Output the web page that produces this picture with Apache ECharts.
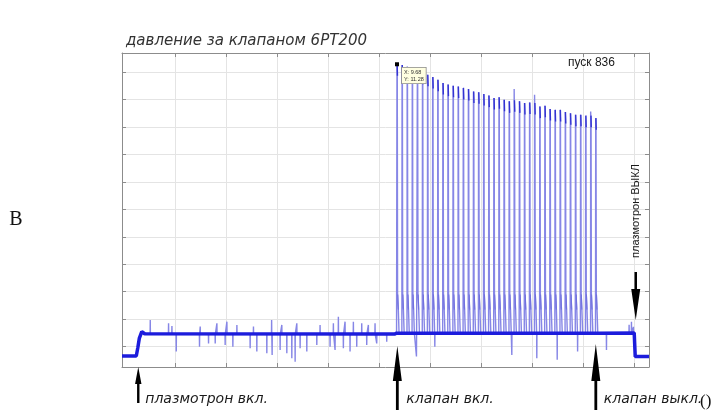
<!DOCTYPE html>
<html><head><meta charset="utf-8">
<script src="https://cdn.jsdelivr.net/npm/echarts@6/dist/echarts.min.js"></script>
<style>html,body{margin:0;padding:0;background:#fff}#c{width:719px;height:410px}</style>
</head><body><div id="c"></div>
<script>
// ---- axis ranges / grid ticks (no tick labels are shown in the reference) ----
const xRange = [-0.044, 10.29];
const yRange = [0.26, 11.69];
const xGridTicks = [1, 2, 3, 4, 5, 6, 7, 8, 9, 10];
const yGridTicks = [1, 2, 3, 4, 5, 6, 7, 8, 9, 10, 11];

// ---- base level of the pressure signal (baseline -> plasmatron on -> off) ----
const levelTimes  = [-0.044, 0.236, 0.265, 0.295, 0.344, 0.40, 5.30, 5.34, 9.30, 10.00, 10.02, 10.29];
const levelValues = [0.66, 0.66, 0.95, 1.30, 1.55, 1.47, 1.46, 1.49, 1.49, 1.50, 0.64, 0.64];

// ---- noise spikes on the plateau ----
const noiseTimes  = [0.510,0.869,0.935,1.020,1.476,1.490,1.653,1.784,1.817,1.979,2.013,2.130,2.209,2.469,2.534,2.600,2.796,2.890,2.900,3.057,3.090,3.188,3.286,3.351,3.384,3.449,3.580,3.776,3.840,4.036,4.101,4.134,4.199,4.297,4.330,4.428,4.493,4.559,4.657,4.755,4.787,4.918,4.951,5.147,
                     5.730,6.090,7.600,8.090,8.490,8.890,9.456,9.900,9.946,9.985];
const noiseValues = [1.97,1.85,1.75,0.82,1.00,1.73,1.12,1.12,1.85,1.06,1.91,1.00,1.79,0.94,1.73,0.82,0.76,1.97,0.70,0.88,1.79,0.76,0.58,0.45,1.85,0.94,0.82,1.06,1.79,1.00,1.85,0.88,2.09,0.94,1.91,0.82,1.91,1.00,1.85,1.06,1.79,1.85,1.12,1.18,
                     0.64,1.00,0.70,0.58,0.52,0.82,0.88,1.80,1.91,1.72];

// ---- valve pulses ----
const pulseTimes = [5.344,5.444,5.544,5.644,5.744,5.844,5.944,6.044,6.144,6.244,6.344,6.444,6.544,6.644,6.744,6.844,6.944,7.044,7.144,7.244,
                    7.344,7.444,7.544,7.644,7.744,7.844,7.944,8.044,8.144,8.244,8.344,8.444,8.544,8.644,8.744,8.844,8.944,9.044,9.144,9.241];
const pulsePeaks = [11.28,11.25,11.19,11.12,11.07,10.97,10.90,10.82,10.72,10.60,10.54,10.50,10.47,10.42,10.38,10.29,10.26,10.20,10.14,10.05,
                    10.08,9.99,9.93,9.97,9.93,9.87,9.89,9.87,9.74,9.77,9.65,9.62,9.62,9.54,9.50,9.44,9.44,9.41,9.41,9.32];
const pulseOvershootIndex = [23, 27, 38];
const pulseOvershootValue = [10.38, 10.17, 9.56];
// pulse profile after the peak: time offsets and levels
const pulseProfileDt = [0, 0.004, 0.010, 0.016, 0.030, 0.045];
const pulseTopDrop = 0.42;         // dark part at the top of each pulse
const pulseShoulder = [2.9, 2.35]; // secondary shoulder levels

const cursorX = 9.68;  // data-cursor readout
const eventLabels = ['плазмотрон вкл.', 'клапан вкл.', 'клапан выкл.'];
const eventTimes = [0.275, 5.355, 9.247];
const offLabel = 'плазмотрон ВЫКЛ';
const offTime = 10.03;

// ---- build series ----
function levelAt(t) {
  for (let i = 1; i < levelTimes.length; i++) {
    if (t <= levelTimes[i]) {
      const a = levelTimes[i-1], b = levelTimes[i];
      const f = (t - a) / (b - a);
      return levelValues[i-1] + f * (levelValues[i] - levelValues[i-1]);
    }
  }
  return levelValues[levelValues.length - 1];
}
const band = levelTimes.map((t, i) => [t, levelValues[i]]);
let pts = band.slice();
noiseTimes.forEach((t, i) => {
  const b = levelAt(t);
  pts.push([t - 0.003, b], [t, noiseValues[i]], [t + 0.003, b]);
});
const tops = [];
const shoulders = [];
pulseTimes.forEach((t, k) => {
  const p = pulsePeaks[k];
  const b = levelAt(t);
  const oi = pulseOvershootIndex.indexOf(k);
  pts.push([t + pulseProfileDt[0], b]);
  if (oi >= 0) pts.push([t + 0.002, pulseOvershootValue[oi]]);
  pts.push([t + pulseProfileDt[1], p], [t + pulseProfileDt[2], p - pulseTopDrop],
           [t + pulseProfileDt[3], pulseShoulder[0]], [t + pulseProfileDt[4], pulseShoulder[1]],
           [t + pulseProfileDt[5], b]);
  tops.push([t + pulseProfileDt[1] + 0.004, p], [t + pulseProfileDt[2] + 0.004, p - pulseTopDrop], [t + 0.012, null]);
  shoulders.push([t + pulseProfileDt[3] + 0.004, pulseShoulder[0]], [t + pulseProfileDt[4], pulseShoulder[1]], [t + 0.04, null]);
});
pts.sort((a, b) => a[0] - b[0]);

const chart = echarts.init(document.getElementById('c'), null, {renderer: 'canvas'});
const borderColor = '#8c8c8c';
const gridColor = '#e4e4e4';
function xAx(pos, split) {
  return {type: 'value', position: pos, min: xRange[0], max: xRange[1],
    axisLine: {show: true, onZero: false, lineStyle: {color: borderColor, width: 1}},
    axisTick: {show: true, inside: true, length: 4, customValues: xGridTicks, lineStyle: {color: borderColor}},
    axisLabel: {show: false},
    splitLine: {show: split, lineStyle: {color: gridColor, width: 1}}};
}
function yAx(pos, split) {
  return {type: 'value', position: pos, min: yRange[0], max: yRange[1],
    axisLine: {show: true, onZero: false, lineStyle: {color: borderColor, width: 1}},
    axisTick: {show: true, inside: true, length: 4, customValues: yGridTicks, lineStyle: {color: borderColor}},
    axisLabel: {show: false},
    splitLine: {show: split, lineStyle: {color: gridColor, width: 1}}};
}
chart.setOption({
  animation: false,
  backgroundColor: '#ffffff',
  grid: {left: 122, right: 70, top: 53, bottom: 43, containLabel: false},
  title: {text: 'давление за клапаном 6РТ200', left: 121, top: 29,
    textStyle: {fontFamily: 'DejaVu Sans', fontStyle: 'italic', fontWeight: 'normal', fontSize: 15, color: '#333333'}},
  xAxis: [xAx('bottom', true), xAx('top', false)],
  yAxis: [yAx('left', true), yAx('right', false)],
  series: [
    {name: 'сигнал', type: 'line', data: pts, showSymbol: false, symbol: 'none',
     lineStyle: {color: '#8686e6', width: 1.4}, z: 2,
     markPoint: {symbol: 'rect', symbolSize: 4, itemStyle: {color: '#000'},
       data: [{coord: [pulseTimes[0] + pulseProfileDt[1], pulsePeaks[0]]}],
       label: {show: true, position: [7, 5.5],
         formatter: 'X: ' + cursorX.toFixed(2) + '\nY: ' + pulsePeaks[0].toFixed(2),
         fontFamily: 'Liberation Sans', fontSize: 5.5, lineHeight: 6.5, color: '#333',
         backgroundColor: '#ffffe1', borderColor: '#8a8a8a', borderWidth: 0.8, padding: [1.5, 2, 1, 2]}}},
    {name: 'вершины', type: 'line', data: tops, showSymbol: false, symbol: 'none', connectNulls: false,
     lineStyle: {color: '#3434d2', width: 1.4}, z: 3},
    {name: 'плечо', type: 'line', data: shoulders, showSymbol: false, symbol: 'none', connectNulls: false,
     lineStyle: {color: '#7070de', width: 1}, z: 3},
    {name: 'уровень', type: 'line', data: band, showSymbol: false, symbol: 'none',
     lineStyle: {color: '#1c1cdc', width: 3.5}, z: 4}
  ]
});

// ---- annotations (arrows + labels) positioned from data times ----
const arrowGeom = [
  {tip: 367, base: 384, hw: 3.2, sw: 2.4, bottom: 403, dx: 7},
  {tip: 346, base: 381, hw: 4.5, sw: 2.8, bottom: 411, dx: 9},
  {tip: 344, base: 381, hw: 4.5, sw: 2.8, bottom: 411, dx: 8}
];
const g = [];
eventTimes.forEach((t, i) => {
  const x = chart.convertToPixel({xAxisIndex: 0}, t);
  const a = arrowGeom[i];
  g.push({type: 'polygon', shape: {points: [[x, a.tip], [x + a.hw, a.base], [x + a.sw/2, a.base], [x + a.sw/2, a.bottom],
    [x - a.sw/2, a.bottom], [x - a.sw/2, a.base], [x - a.hw, a.base]]}, style: {fill: '#000'}, z: 10});
  g.push({type: 'text', x: x + a.dx, y: 399, style: {text: eventLabels[i], fontFamily: 'DejaVu Sans', fontStyle: 'italic',
    fontSize: 14, fill: '#1a1a1a', verticalAlign: 'middle', align: 'left'}, z: 10});
});
const xo = chart.convertToPixel({xAxisIndex: 0}, offTime);
g.push({type: 'polygon', shape: {points: [[xo - 1.25, 272], [xo + 1.25, 272], [xo + 1.25, 289], [xo + 4.5, 289], [xo, 320], [xo - 4.5, 289], [xo - 1.25, 289]]},
  style: {fill: '#000'}, z: 10});
g.push({type: 'text', x: xo, y: 211, rotation: Math.PI / 2, style: {text: offLabel, fontFamily: 'Liberation Sans', fontSize: 11,
  fill: '#1a1a1a', align: 'center', verticalAlign: 'middle'}, z: 10});
g.push({type: 'text', x: 700, y: 402, style: {text: '()', fontFamily: 'Liberation Serif', fontSize: 17, fill: '#111',
  verticalAlign: 'middle', align: 'left'}, z: 10});
g.push({type: 'text', x: 16, y: 220, style: {text: 'B', fontFamily: 'Liberation Serif', fontSize: 20, fill: '#111',
  verticalAlign: 'middle', align: 'center'}, z: 10});
g.push({type: 'text', x: 568, y: 62.5, style: {text: 'пуск 836', fontFamily: 'Liberation Sans', fontSize: 12, fill: '#1a1a1a',
  verticalAlign: 'middle', align: 'left'}, z: 10});
chart.setOption({graphic: g});
</script></body></html>
